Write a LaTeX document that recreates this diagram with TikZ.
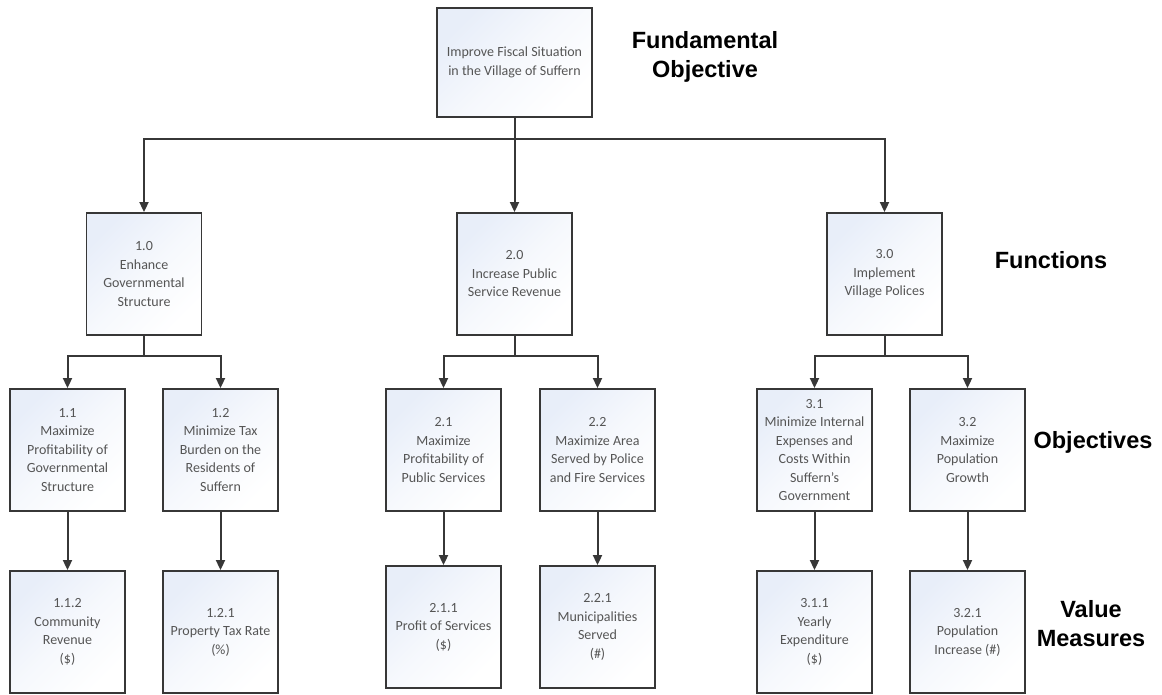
\documentclass[tikz,border=0pt]{standalone}
\usepackage{fontspec}
\setmainfont{Carlito}
\newfontfamily\levelfont{Liberation Sans}
\usetikzlibrary{arrows.meta}
\definecolor{boxline}{RGB}{55,55,55}
\definecolor{boxtext}{RGB}{85,85,85}
\definecolor{boxtint}{RGB}{232,238,249}
\begin{document}
\begin{tikzpicture}[x=1pt,y=-1pt,
    goal/.style={draw=boxline,line width=1.9pt,shading=axis,top color=boxtint,
      bottom color=white,middle color=white!60!boxtint,shading angle=45,text=boxtext,align=center,
      font=\fontsize{14}{18.5}\selectfont,inner sep=0pt,
      minimum width=115pt,minimum height=122pt},
    level/.style={font=\levelfont\bfseries\fontsize{23.5}{29}\selectfont,align=center},
    link/.style={draw=boxline,line width=2pt,-{Triangle[width=9pt,length=10pt]}}]
  \useasboundingbox (0,0) rectangle (1162,694);
  % fundamental objective
  \node[goal,minimum width=155pt,minimum height=109pt] (top) at (514.5,62.5)
    {Improve Fiscal Situation\\in the Village of Suffern};
  % functions
  \node[goal] (f1) at (144,274) {1.0\\Enhance\\Governmental\\Structure};
  \node[goal] (f2) at (514.5,274) {2.0\\Increase Public\\Service Revenue};
  \node[goal] (f3) at (884.5,274) {3.0\\Implement\\Village Polices};
  % objectives
  \node[goal] (o11) at (67.5,450) {1.1\\Maximize\\Profitability of\\Governmental\\Structure};
  \node[goal] (o12) at (220.5,450) {1.2\\Minimize Tax\\Burden on the\\Residents of\\Suffern};
  \node[goal] (o21) at (443.5,450) {2.1\\Maximize\\Profitability of\\Public Services};
  \node[goal] (o22) at (597.5,450) {2.2\\Maximize Area\\Served by Police\\and Fire Services};
  \node[goal] (o31) at (814.5,450) {3.1\\Minimize Internal\\Expenses and\\Costs Within\\Suffern’s\\Government};
  \node[goal] (o32) at (967.5,450) {3.2\\Maximize\\Population\\Growth};
  % value measures
  \node[goal] (v11) at (67.5,632) {1.1.2\\Community\\Revenue\\(\$)};
  \node[goal] (v12) at (220.5,632) {1.2.1\\Property Tax Rate\\(\%)};
  \node[goal] (v21) at (443.5,627) {2.1.1\\Profit of Services\\(\$)};
  \node[goal] (v22) at (597.5,627) {2.2.1\\Municipalities\\Served\\(\#)};
  \node[goal] (v31) at (814.5,632) {3.1.1\\Yearly\\Expenditure\\(\$)};
  \node[goal] (v32) at (967.5,632) {3.2.1\\Population\\Increase (\#)};
  % level labels
  \node[level] (lfund) at (705,57) {Fundamental\\Objective};
  \node[level] (lfunc) at (1051,260) {Functions};
  \node[level] (lobj) at (1093,442) {Objectives};
  \node[level] (lval) at (1091,624) {Value\\Measures};
  % connectors
  \foreach \f in {f1,f2,f3}
    \draw[link] (top.south) -- ++(0,21) -| (\f.north);
  \foreach \f/\a/\b in {f1/o11/o12,f2/o21/o22,f3/o31/o32}{
    \draw[link] (\f.south) -- ++(0,20) -| (\a.north);
    \draw[link] (\f.south) -- ++(0,20) -| (\b.north);
  }
  \foreach \o/\v in {o11/v11,o12/v12,o21/v21,o22/v22,o31/v31,o32/v32}
    \draw[link] (\o) -- (\v);
\end{tikzpicture}
\end{document}
